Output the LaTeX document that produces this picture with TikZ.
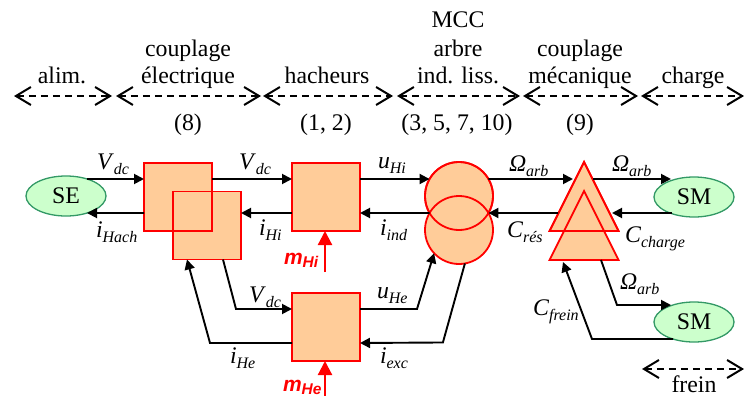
\documentclass[tikz,border=0pt]{standalone}
\usepackage{fontspec}
\setmainfont{Liberation Serif}
\setsansfont{Liberation Sans}
\usepackage{xcolor}
\usetikzlibrary{calc,arrows.meta,shapes.geometric}
\definecolor{blocfill}{HTML}{FFCC99}
\definecolor{srcfill}{HTML}{CCFFCC}
\definecolor{srcline}{HTML}{339966}
\newcommand{\sublab}[2]{\textit{#1}\raisebox{-5pt}{\fontsize{16}{16}\selectfont\textit{#2}}}
\newcommand{\cmdlab}[2]{\textit{#1}\raisebox{-3pt}{\fontsize{15.5}{15.5}\selectfont\textit{#2}}}
\tikzset{
  txt/.style     = {inner sep=0pt, outer sep=0pt, anchor=base, align=center},
  lab/.style     = {inner sep=0pt, outer sep=0pt, anchor=base west},
  cmdtxt/.style  = {lab, text=red, font=\fontsize{21}{21}\selectfont\sffamily\bfseries},
  src/.style     = {ellipse, draw=srcline, fill=srcfill, line width=1.3pt,
                    minimum width=80pt, minimum height=40pt, inner sep=0pt, outer sep=0pt},
  chop/.style    = {rectangle, draw=red, fill=blocfill, line width=1.8pt,
                    minimum size=68pt, inner sep=0pt, outer sep=0pt},
  conv/.style    = {circle, draw=red, fill=blocfill, line width=1.8pt,
                    minimum size=68pt, inner sep=0pt, outer sep=0pt},
  tri/.style     = {isosceles triangle, isosceles triangle stretches, shape border rotate=90,
                    draw=red, fill=blocfill, line width=1.8pt, anchor=apex,
                    minimum width=69pt, minimum height=69pt, inner sep=0pt, outer sep=0pt},
  edge/.style    = {draw=red, line width=1.8pt, line join=miter},
  flow/.style    = {-{Triangle[length=10pt,width=10pt]}, line width=1.9pt},
  cmd/.style     = {-{Triangle[length=14pt,width=14pt]}, line width=2.2pt, red},
  span/.style    = {{Straight Barb[length=15pt,width=18pt]}-{Straight Barb[length=15pt,width=18pt]},
                    line width=2pt, dash pattern=on 7pt off 5pt},
}
\begin{document}
\begin{tikzpicture}[x=1pt,y=-1pt,font=\fontsize{23.8}{28}\selectfont]
  \useasboundingbox (0,0) rectangle (744,396);
  % scale headings
  \coordinate (alimL) at (14,96);   \coordinate (alimR) at (112,96);
  \coordinate (elecL) at (116,96);  \coordinate (elecR) at (261,96);
  \coordinate (hachL) at (263,96);  \coordinate (hachR) at (393,96);
  \coordinate (mccL) at (397,96);   \coordinate (mccR) at (520,96);
  \coordinate (mecaL) at (523,96);  \coordinate (mecaR) at (638,96);
  \coordinate (chargL) at (641,96); \coordinate (chargR) at (744,96);
  \coordinate (freinL) at (642,369); \coordinate (freinR) at (744,369);
  \draw[span] (alimL) -- (alimR);
  \draw[span] (elecL) -- (elecR);
  \draw[span] (hachL) -- (hachR);
  \draw[span] (mccL) -- (mccR);
  \draw[span] (mecaL) -- (mecaR);
  \draw[span] (chargL) -- (chargR);
  \draw[span] (freinL) -- (freinR);
  \node[txt] (talim) at (62,84) {alim.};
  \node[txt] (telec) at (188,84) {couplage\\électrique};
  \node[txt] (thach) at (327,84) {hacheurs};
  \node[txt] (tmcc) at (458,84) {MCC\\arbre\\ind. liss.};
  \node[txt] (tmeca) at (580,84) {couplage\\mécanique};
  \node[txt] (tcharg) at (693,84) {charge};
  \node[lab,anchor=base] (tfrein) at (694,392) {frein};
  \node[txt] (neq8) at (188,130) {(8)};
  \node[txt] (neqh) at (326,130) {(1, 2)};
  \node[txt] (neqm) at (457,130) {(3, 5, 7, 10)};
  \node[txt] (neq9) at (580,130) {(9)};
  % blocks
  \node[src] (se) at (66,196) {SE};
  \node[src] (smc) at (694,197) {SM};
  \node[src] (smf) at (694,322) {SM};
  \node[chop] (cpa) at (178,197) {};
  \node[chop] (cpb) at (207,225.5) {};
  \node[chop] (hi) at (326,197) {};
  \node[chop] (he) at (326,327) {};
  \node[conv] (mcci) at (459,196) {};
  \node[conv] (mcce) at (459,230) {};
  \node[tri] (tria) at (584,162) {};
  \node[tri] (trib) at (584,191) {};
  % edges seen through the overlaps
  \draw[edge] (cpa.south west) rectangle (cpa.north east);
  \draw[edge] (mcci) circle[radius=34pt];
  \draw[edge] (tria.apex) -- (tria.left corner) -- (tria.right corner) -- cycle;
  % power flows
  \draw[flow] (se.39) -- ([yshift=18pt]cpa.west);
  \draw[flow] ([yshift=-16pt]cpa.west) -- (se.-39);
  \draw[flow] ([yshift=18pt]cpa.east) -- ([yshift=18pt]hi.west);
  \draw[flow] ([yshift=-16pt]hi.west) -- ([yshift=12.5pt]cpb.east);
  \draw[flow] ([yshift=18pt]hi.east) -- (mcci.150);
  \draw[flow] (mcci.210) -- ([yshift=-16pt]hi.east);
  \draw[flow] (mcci.30) -- ([xshift=-11pt,yshift=-17pt]tria.apex);
  \draw[flow] ([xshift=-26pt,yshift=-51pt]tria.apex) -- (mcci.-30);
  \draw[flow] ([xshift=9pt,yshift=-17pt]tria.apex) -- ([xshift=-23pt,yshift=18pt]smc.center);
  \draw[flow] ([xshift=-22pt,yshift=-16pt]smc.center) -- ([xshift=28pt,yshift=-51pt]tria.apex);
  \draw[flow] ([xshift=16pt]cpb.south) -- ++(13,49.5) -- ([yshift=18pt]he.west);
  \draw[flow] ([yshift=-16pt]he.west) -- ++(-82,0) -- ([xshift=-20pt]cpb.south);
  \draw[flow] ([yshift=18pt]he.east) -- ++(57,0) -- (mcce.223);
  \draw[flow] (mcce.-80) -- ++(-22,79) -- ([yshift=-16pt]he.east);
  \draw[flow] ([xshift=17pt]trib.lower side) -- ++(16,45) -- ([xshift=-23pt,yshift=17pt]smf.center);
  \draw[flow] ([xshift=-21pt,yshift=-17pt]smf.center) -- ++(-81,0) -- ([xshift=-21pt,yshift=-2pt]trib.lower side);
  % commands
  \coordinate (mhis) at (325,272);
  \coordinate (mhes) at (325,396);
  \draw[cmd] (mhis) -- ([xshift=-1pt]hi.south);
  \draw[cmd] (mhes) -- ([xshift=-1pt]he.south);
  \node[cmdtxt] (lmhi) at (284,264) {\cmdlab{m}{Hi}};
  \node[cmdtxt] (lmhe) at (283,391) {\cmdlab{m}{He}};
  % labels
  \node[lab] (lv1) at (97,169) {\sublab{V}{dc}};
  \node[lab] (lv2) at (239,169) {\sublab{V}{dc}};
  \node[lab] (lv3) at (249,302) {\sublab{V}{dc}};
  \node[lab] (lih) at (96,237) {\sublab{i}{Hach}};
  \node[lab] (lihi) at (259,235) {\sublab{i}{Hi}};
  \node[lab] (lihe) at (230,363) {\sublab{i}{He}};
  \node[lab] (luhi) at (378,168) {\sublab{u}{Hi}};
  \node[lab] (luhe) at (377,298) {\sublab{u}{He}};
  \node[lab] (liind) at (380,235) {\sublab{i}{ind}};
  \node[lab] (liexc) at (380,363) {\sublab{i}{exc}};
  \node[lab] (lo1) at (509,171) {\sublab{Ω}{arb}};
  \node[lab] (lo2) at (612,171) {\sublab{Ω}{arb}};
  \node[lab] (lo3) at (620,289) {\sublab{Ω}{arb}};
  \node[lab] (lcres) at (507,237) {\sublab{C}{rés}};
  \node[lab] (lcch) at (625,242) {\sublab{C}{charge}};
  \node[lab] (lcfr) at (533,315) {\sublab{C}{frein}};
\end{tikzpicture}
\end{document}
